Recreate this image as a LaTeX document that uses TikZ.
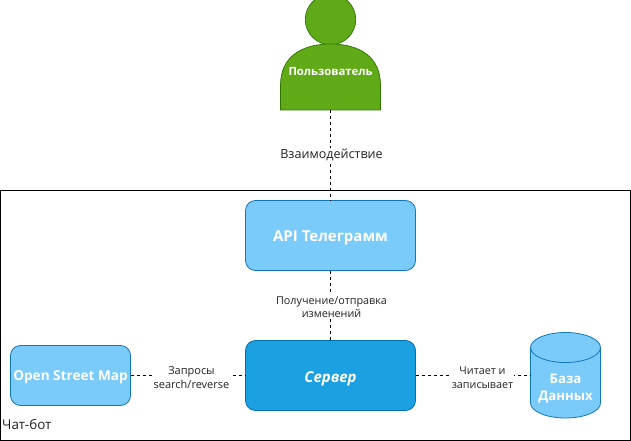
\documentclass[tikz,border=0pt]{standalone}
\usepackage{fontspec}
\setmainfont{Open Sans}
\definecolor{lb}{HTML}{7ACBFA}
\definecolor{lbd}{HTML}{1177BB}
\definecolor{srv}{HTML}{1BA1E2}
\definecolor{srvd}{HTML}{006EAF}
\definecolor{gr}{HTML}{60A917}
\definecolor{grd}{HTML}{2D7600}
\definecolor{tx}{HTML}{222222}
\tikzset{
  boxlight/.style={draw=lbd,fill=lb,rounded corners=10pt,line width=.8pt,inner sep=0pt},
  boxdark/.style={boxlight,draw=srvd,fill=srv},
  boxtext/.style={anchor=base,inner sep=0pt,text=white,font=\fontsize{15}{16}\selectfont\bfseries},
  link/.style={line width=.7pt,black,dash pattern=on 3pt off 3pt},
  lab/.style={fill=white,inner sep=1pt,text=tx,font=\fontsize{11}{13.5}\selectfont,align=center},
}
\begin{document}
\begin{tikzpicture}[x=1pt,y=-1pt]
\useasboundingbox (0,0) rectangle (631,441);
\draw[black,line width=1pt,fill=white] (0.5,190.5) rectangle (630.5,440.5);
% person
\path[clip] (0,0) rectangle (631,441);
\coordinate (pb) at (330.5,110);
\node[draw=grd,fill=gr,circle,minimum size=50.5pt,inner sep=0pt,line width=.7pt] (head) at (330.5,19.5) {};
\filldraw[draw=grd,fill=gr,line width=.7pt] (280.5,110) -- (280.5,85) .. controls (280.5,58) and (300,44) .. (330.5,44) .. controls (361,44) and (380.5,58) .. (380.5,85) -- (380.5,110) -- cycle;
\node[text=white,font=\fontsize{11.3}{13}\selectfont\bfseries,inner sep=0pt] (user) at (330.5,72) {Пользователь};
% boxes
\node[boxlight,minimum width=170pt,minimum height=70pt] (api) at (330.5,235.5) {};
\node[boxtext] (apit) at (330.5,241.5) {API Телеграмм};
\node[boxdark,minimum width=170pt,minimum height=70pt] (server) at (330.5,375.5) {};
\node[boxtext,font=\fontsize{15}{16}\selectfont\bfseries\itshape] (servert) at (330.5,382) {Сервер};
\node[boxlight,minimum width=120pt,minimum height=60pt] (osm) at (70.5,375.5) {};
\node[boxtext,font=\fontsize{13.6}{16}\selectfont\bfseries] (osmt) at (70.5,380) {Open Street Map};
% cylinder
\coordinate (dbw) at (530.5,375.5);
\filldraw[draw=lbd,fill=lb,line width=.8pt] (530.5,347.5) arc[start angle=180,end angle=0,x radius=35pt,y radius=15pt] -- (600.5,403) arc[start angle=0,end angle=-180,x radius=35pt,y radius=15pt] -- cycle;
\draw[lbd,line width=.8pt] (530.5,347.5) arc[start angle=180,end angle=360,x radius=35pt,y radius=15pt];
\node[text=white,font=\fontsize{13.2}{17}\selectfont\bfseries,align=center,inner sep=0pt] (db) at (565.5,389) {База\\Данных};
% connectors
\draw[link] (head.center |- pb) -- (api.north);
\draw[link] (api) -- (server);
\draw[link] (osm) -- (server);
\draw[link] (server) -- (dbw);
% labels
\node[lab,font=\fontsize{12.6}{15}\selectfont] (l1) at (331.5,154.5) {Взаимодействие};
\node[lab,font=\fontsize{10.8}{13.5}\selectfont] (l2) at (331.5,307) {Получение/отправка\\изменений};
\node[lab,font=\fontsize{11}{14}\selectfont] (l3) at (191.5,377.5) {Запросы\\search/reverse};
\node[lab,font=\fontsize{10.8}{14}\selectfont] (l4) at (482.5,378) {Читает и\\записывает};
\node[text=tx,font=\fontsize{13.4}{15}\selectfont,inner sep=0pt,anchor=west] (bot) at (2,424.5) {Чат-бот};
\end{tikzpicture}
\end{document}
